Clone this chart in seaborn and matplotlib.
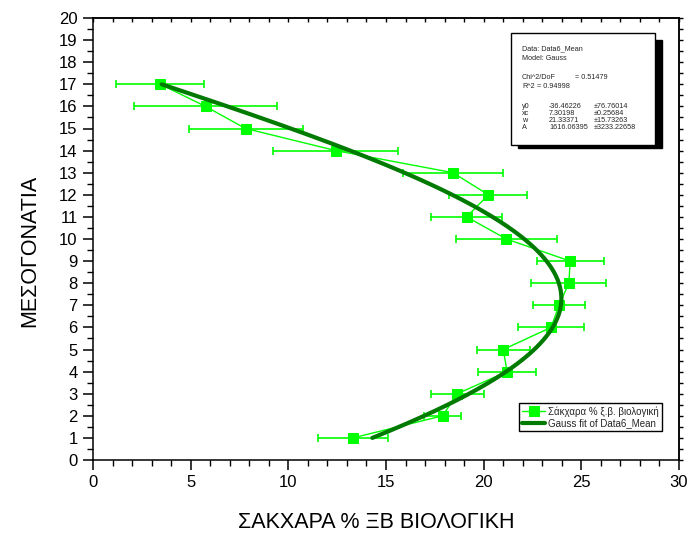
import numpy as np
import pandas as pd
import matplotlib
matplotlib.use("Agg")
import matplotlib.pyplot as plt
from matplotlib.patches import Rectangle
from matplotlib.ticker import MultipleLocator
import seaborn as sns

# ---- data ----
nodes = [1, 2, 3, 4, 5, 6, 7, 8, 9, 10, 11, 12, 13, 14, 15, 16, 17]
sugar = [13.3, 17.9, 18.65, 21.2, 21.0, 23.45, 23.86, 24.36, 24.43, 21.16,
         19.13, 20.24, 18.43, 12.43, 7.81, 5.76, 3.45]
sugar_err = [1.8, 0.95, 1.35, 1.5, 1.35, 1.67, 1.35, 1.92, 1.72, 2.58,
             1.83, 1.99, 2.55, 3.19, 2.92, 3.64, 2.25]

# Gauss fit parameters (from the info box)
fit_y0 = -36.46226
fit_xc = 7.30198
fit_w = 21.33371
fit_A = 1616.06395

info_lines_top = ["Data: Data6_Mean", "Model: Gauss"]
info_chi = ("Chi^2/DoF", "= 0.51479")
info_r2 = ("R^2", "= 0.94998")
param_names = ["y0", "xc", "w", "A"]
param_vals = ["-36.46226", "7.30198", "21.33371", "1616.06395"]
param_errs = ["\u00b176.76014", "\u00b10.25684", "\u00b115.73263", "\u00b13233.22658"]

xlabel = "ΣΑΚΧΑΡΑ % ΞΒ ΒΙΟΛΟΓΙΚΗ"
ylabel = "ΜΕΣΟΓΟΝΑΤΙΑ"
leg_data = "Σάκχαρα % ξ.β. βιολογική"
leg_fit = "Gauss fit of Data6_Mean"

df = pd.DataFrame({"node": nodes, "sugar": sugar, "err": sugar_err})

yy = np.linspace(min(nodes), max(nodes), 200)
xx = fit_y0 + fit_A / (fit_w * np.sqrt(np.pi / 2)) * np.exp(-2 * ((yy - fit_xc) / fit_w) ** 2)
fit_df = pd.DataFrame({"node": yy, "sugar": xx})

# ---- styling ----
sns.set_theme(style="white")
plt.rcParams["font.family"] = ["Liberation Sans", "DejaVu Sans"]

W, H = 688, 536
fig = plt.figure(figsize=(W / 100, H / 100), dpi=100)
L, R, T, B = 93, 679, 18, 460
ax = fig.add_axes([L / W, 1 - B / H, (R - L) / W, (B - T) / H])

bright = "#00ff00"
dark = "#007a00"

ax.errorbar(df["sugar"], df["node"], xerr=df["err"], fmt="none",
            ecolor=bright, elinewidth=1.2, capsize=3.0, capthick=1.2, zorder=2)
sns.lineplot(data=df, x="sugar", y="node", sort=False, estimator=None,
             color=bright, linewidth=1.0, marker="s", markersize=7,
             markeredgecolor=bright, markerfacecolor=bright,
             ax=ax, label=leg_data, zorder=3)
sns.lineplot(data=fit_df, x="sugar", y="node", sort=False, estimator=None,
             color=dark, linewidth=3.0, ax=ax, label=leg_fit, zorder=4)

ax.set_xlim(0, 30)
ax.set_ylim(0, 20)
ax.xaxis.set_major_locator(MultipleLocator(5))
ax.xaxis.set_minor_locator(MultipleLocator(1))
ax.yaxis.set_major_locator(MultipleLocator(1))
ax.yaxis.set_minor_locator(MultipleLocator(0.5))

for s in ax.spines.values():
    s.set_color("black")
    s.set_linewidth(1.1)

ax.tick_params(axis="both", which="both", direction="out", color="black",
               labelsize=12, labelcolor="black", bottom=True, left=True)
ax.tick_params(axis="both", which="major", length=7, width=1.1, pad=4)
ax.tick_params(axis="both", which="minor", length=4, width=1.0)

top = ax.secondary_xaxis("top")
top.xaxis.set_major_locator(MultipleLocator(1))
top.tick_params(direction="in", length=3, width=1.0, labeltop=False, color="black")
right = ax.secondary_yaxis("right")
right.yaxis.set_major_locator(MultipleLocator(0.5))
right.tick_params(direction="out", length=3, width=1.0, labelright=False, color="black")

ax.set_xlabel(xlabel, fontsize=15.5, color="black", va="center")
ax.set_ylabel(ylabel, fontsize=15.5, color="black", va="center")
ax.xaxis.set_label_coords((376 - L) / (R - L), -(522 - B) / (B - T))
ax.yaxis.set_label_coords((30 - L) / (R - L), (B - 251) / (B - T))

leg = ax.legend(loc="lower right", bbox_to_anchor=((662 - L) / (R - L), (B - 431) / (B - T)),
                fontsize=7.0, frameon=True, fancybox=False, edgecolor="black",
                framealpha=1, handlelength=2.4, handletextpad=0.3,
                borderpad=0.3, labelspacing=0.15, borderaxespad=0)
leg.get_frame().set_linewidth(1.0)

# ---- info box with shadow (figure pixel coords) ----
def fx(px):
    return px / W

def fy(py):
    return 1 - py / H

bx0, bx1, by0, by1 = 511, 655, 33, 145
sh = 7
fig.add_artist(Rectangle((fx(bx0 + sh), fy(by1 + 3)), fx(bx1 + sh) - fx(bx0 + sh),
                         fy(by0 + sh) - fy(by1 + 3), transform=fig.transFigure,
                         facecolor="black", edgecolor="black", zorder=10))
fig.add_artist(Rectangle((fx(bx0), fy(by1)), fx(bx1) - fx(bx0), fy(by0) - fy(by1),
                         transform=fig.transFigure, facecolor="white",
                         edgecolor="black", linewidth=1.0, zorder=11))

fs = 5.2
tx = 522
fig.text(fx(tx), fy(49), info_lines_top[0], fontsize=fs, va="center", zorder=12)
fig.text(fx(tx), fy(59), info_lines_top[1], fontsize=fs, va="center", zorder=12)
fig.text(fx(tx), fy(77.5), info_chi[0], fontsize=fs, va="center", zorder=12)
fig.text(fx(575), fy(77.5), info_chi[1], fontsize=fs, va="center", zorder=12)
fig.text(fx(tx), fy(87), info_r2[0], fontsize=fs, va="center", zorder=12)
fig.text(fx(537), fy(87), info_r2[1], fontsize=fs, va="center", zorder=12)
for i, (n, v, e) in enumerate(zip(param_names, param_vals, param_errs)):
    yp = 107 + i * 6.8
    fig.text(fx(tx), fy(yp), n, fontsize=fs, va="center", zorder=12)
    fig.text(fx(549), fy(yp), v, fontsize=fs, va="center", zorder=12)
    fig.text(fx(594), fy(yp), e, fontsize=fs, va="center", zorder=12)

fig.savefig("out.png", dpi=100)
